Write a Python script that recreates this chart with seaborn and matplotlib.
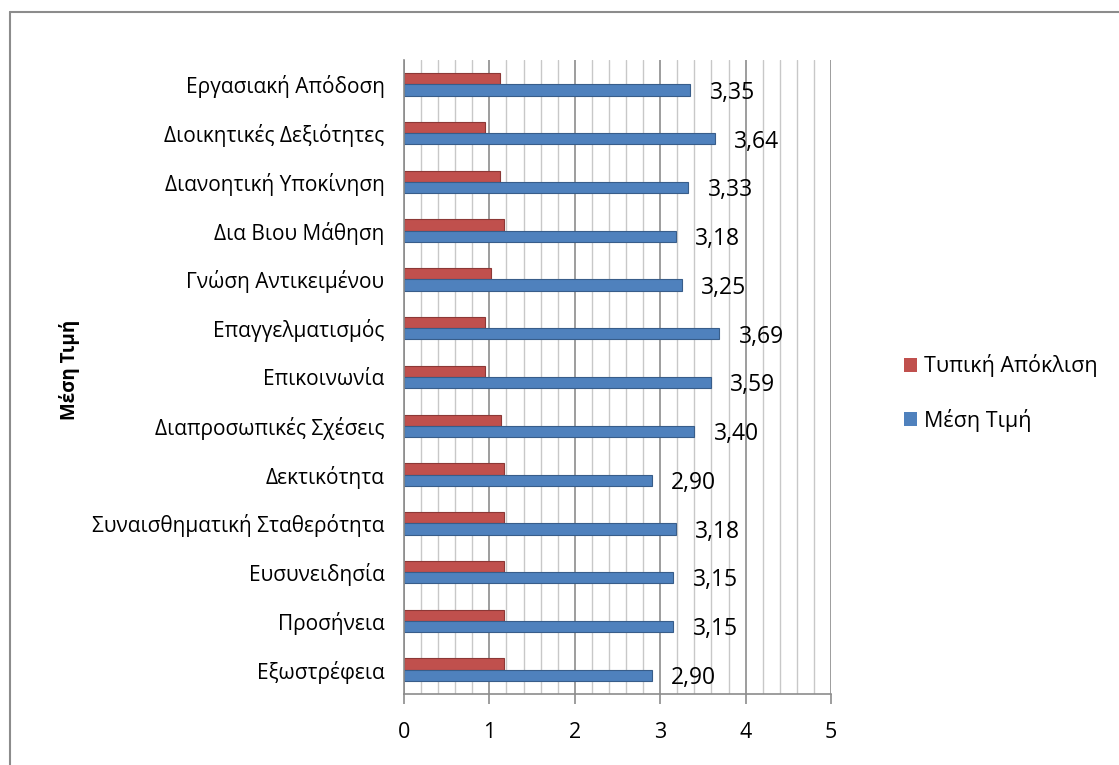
import matplotlib
matplotlib.use("Agg")
import matplotlib.pyplot as plt
from matplotlib.lines import Line2D
from matplotlib.patches import Patch
from matplotlib.ticker import MultipleLocator
import seaborn as sns
import pandas as pd

categories = [
    "Εργασιακή Απόδοση",
    "Διοικητικές Δεξιότητες",
    "Διανοητική Υποκίνηση",
    "Δια Βιου Μάθηση",
    "Γνώση Αντικειμένου",
    "Επαγγελματισμός",
    "Επικοινωνία",
    "Διαπροσωπικές Σχέσεις",
    "Δεκτικότητα",
    "Συναισθηματική Σταθερότητα",
    "Ευσυνειδησία",
    "Προσήνεια",
    "Εξωστρέφεια",
]
mean_values = [3.35, 3.64, 3.33, 3.18, 3.25, 3.69, 3.59, 3.40, 2.90, 3.18, 3.15, 3.15, 2.90]
std_values = [1.12, 0.95, 1.12, 1.17, 1.02, 0.95, 0.95, 1.13, 1.17, 1.17, 1.17, 1.17, 1.17]
series_names = ["Τυπική Απόκλιση", "Μέση Τιμή"]
x_ticks = [0, 1, 2, 3, 4, 5]

colors = {"Τυπική Απόκλιση": "#C0504D", "Μέση Τιμή": "#4F81BD"}
edges = {"Τυπική Απόκλιση": "#8C3836", "Μέση Τιμή": "#385D8A"}

df = pd.DataFrame({
    "cat": categories * 2,
    "value": std_values + mean_values,
    "series": [series_names[0]] * len(categories) + [series_names[1]] * len(categories),
})

sns.set_theme(style="white")
FONT = ["Open Sans", "DejaVu Sans"]
plt.rcParams["font.family"] = FONT
plt.rcParams["text.color"] = "black"
plt.rcParams["xtick.color"] = "black"
plt.rcParams["ytick.color"] = "black"

W, H = 1119, 765
fig = plt.figure(figsize=(W / 100, H / 100), dpi=100)
ax = fig.add_axes([404 / W, (H - 694) / H, (831 - 404) / W, (694 - 60) / H])

sns.barplot(data=df, y="cat", x="value", hue="series", hue_order=series_names,
            order=categories, palette=colors, orient="h", width=0.46,
            dodge=True, ax=ax, legend=False, saturation=1)

for cont, name in zip(ax.containers, series_names):
    for bar in cont:
        bar.set_edgecolor(edges[name])
        bar.set_linewidth(0.8)

# data labels on mean bars
for bar, v in zip(ax.containers[1], mean_values):
    y = bar.get_y() + bar.get_height() / 2
    ax.annotate(f"{v:.2f}".replace(".", ","), xy=(v, y), xytext=(14, -2),
                textcoords="offset points", ha="left", va="center",
                fontsize=16.5, color="black")

ax.set_xlim(0, 5)
ax.set_ylim(len(categories) - 0.5, -0.5)
ax.xaxis.set_major_locator(MultipleLocator(1))
ax.xaxis.set_minor_locator(MultipleLocator(0.2))
ax.grid(True, which="minor", axis="x", color="#C8C8C8", linewidth=1.0)
ax.grid(True, which="major", axis="x", color="#8C8C8C", linewidth=1.2)
ax.set_axisbelow(True)

for s in ["top", "right"]:
    ax.spines[s].set_visible(False)
ax.spines["left"].set_color("#8C8C8C")
ax.spines["bottom"].set_color("#8C8C8C")
ax.spines["left"].set_linewidth(1.2)
ax.spines["bottom"].set_linewidth(1.2)

ax.set_xticks(x_ticks)
ax.set_xticklabels([str(t) for t in x_ticks], fontsize=15.5)
ax.tick_params(axis="x", which="major", direction="out", length=7, width=1.2,
               color="#8C8C8C", labelcolor="black", pad=13, bottom=True)
ax.tick_params(axis="x", which="minor", length=0)
ax.tick_params(axis="y", length=0, pad=14, labelsize=15, labelcolor="black")
ax.set_xlabel("")
ax.set_ylabel("")

fig.text(70 / W, 1 - 370 / H, "Μέση Τιμή", rotation=90, ha="center", va="center",
         fontsize=13.5, fontweight="bold", color="black")

handles = [Patch(facecolor=colors[n], edgecolor="none") for n in series_names]
fig.legend(handles, series_names, loc="center left",
           bbox_to_anchor=(885 / W, 1 - 393 / H), frameon=False,
           fontsize=15.5, handlelength=0.6, handleheight=0.6,
           handletextpad=0.3, labelspacing=1.45)

# outer frame (left & top lines)
fig.add_artist(Line2D([10 / W, 10 / W], [0, 1 - 12 / H], transform=fig.transFigure,
                      color="#8C8C8C", linewidth=1.5))
fig.add_artist(Line2D([10 / W, 1], [1 - 12 / H, 1 - 12 / H], transform=fig.transFigure,
                      color="#8C8C8C", linewidth=1.5))

fig.savefig("out.png", dpi=100, facecolor="white")
